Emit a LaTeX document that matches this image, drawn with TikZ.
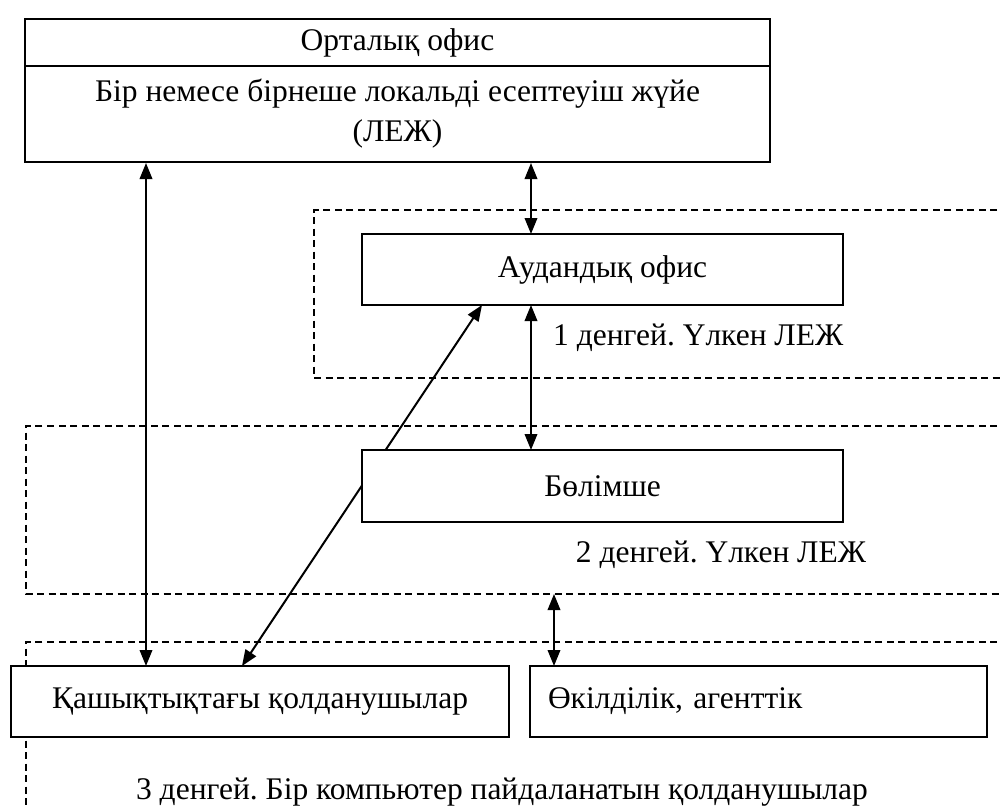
\documentclass[tikz,border=0pt]{standalone}
\usepackage{fontspec}
\setmainfont{Liberation Serif}
\usetikzlibrary{arrows.meta}
\begin{document}
\frenchspacing
\begin{tikzpicture}[x=1pt,y=-1pt,
  txt/.style={font=\fontsize{31.5}{40}\selectfont},
  box/.style={draw, line width=2pt, fill=white, inner sep=0pt, txt},
  zone/.style={draw, line width=1.5pt, dash pattern=on 7pt off 4.5pt},
  link/.style={line width=2pt, {Triangle[length=16pt,width=12.5pt]}-{Triangle[length=16pt,width=12.5pt]}},
  lbl/.style={txt, inner sep=0pt}
]
\useasboundingbox (0,0) rectangle (1002,808);
\clip (0,0) rectangle (1002,808);

% network levels (dashed frames running off the page)
\draw[zone] (1020,210) -- (314,210) -- (314,378) -- (1020,378);
\draw[zone] (1020,426) -- (26,426) -- (26,594) -- (1020,594);
\draw[zone] (1020,642) -- (26,642) -- (26,830);
\coordinate (lvtwo) at (554,594);

% offices
\node[box, minimum width=745pt, minimum height=48pt] (title) at (397.5,43) {Орталық офис};
\node[box, minimum width=745pt, minimum height=96pt, align=center] (body) at (397.5,114)
  {Бір немесе бірнеше локальді есептеуіш жүйе\\(ЛЕЖ)};

% connections
\draw[link] (body.south -| 146,0) -- (146,666);
\draw[link] (body.south -| 531,0) -- (531,234);
\draw[link] (531,305) -- (531,450);
\draw[link] (242,666) -- (482,305);
\draw[link] (lvtwo) -- (554,666);

\node[box, minimum width=481pt, minimum height=71pt] (district) at (602.5,269.5) {Аудандық офис};
\node[box, minimum width=481pt, minimum height=72pt] (branch) at (602.5,486) {Бөлімше};
\node[box, minimum width=498pt, minimum height=71pt] (remote) at (260,701.5) {Қашықтықтағы қолданушылар};
\node[box, minimum height=71pt, text width=421pt, inner xsep=18pt, align=left] (agency) at (758.5,701.5) {Өкілділік, агенттік};

% level captions
\node[lbl, anchor=base west] (capone) at (553,345) {1 денгей. Үлкен ЛЕЖ};
\node[lbl, anchor=base] (captwo) at (721,562) {2 денгей. Үлкен ЛЕЖ};
\node[lbl, anchor=base] (capthree) at (502,799) {3 денгей. Бір компьютер пайдаланатын қолданушылар};
\end{tikzpicture}
\end{document}
